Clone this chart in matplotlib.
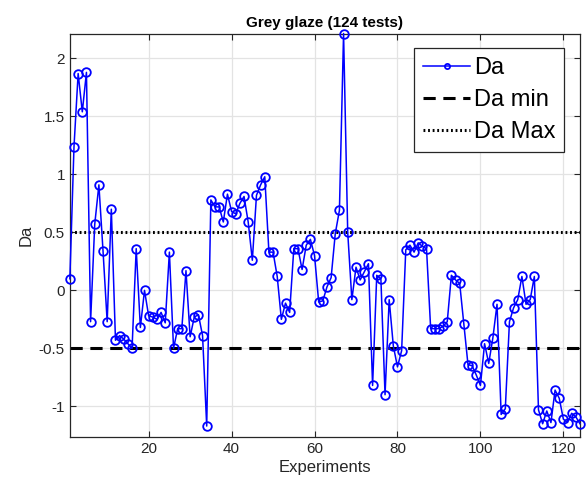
import matplotlib
matplotlib.use('Agg')
import matplotlib.pyplot as plt
import numpy as np

plt.rcParams['font.family'] = ['Liberation Sans', 'DejaVu Sans']
plt.rcParams['axes.unicode_minus'] = False

da = [0.10, 1.24, 1.87, 1.54, 1.88, -0.27, 0.57, 0.91, 0.34, -0.27,
      0.70, -0.43, -0.39, -0.42, -0.46, -0.50, 0.36, -0.32, 0.00, -0.22,
      -0.23, -0.25, -0.19, -0.28, 0.33, -0.50, -0.33, -0.33, 0.17, -0.40,
      -0.23, -0.21, -0.39, -1.17, 0.78, 0.72, 0.72, 0.59, 0.83, 0.68,
      0.66, 0.75, 0.81, 0.59, 0.26, 0.82, 0.91, 0.98, 0.33, 0.33,
      0.12, -0.25, -0.11, -0.19, 0.36, 0.36, 0.18, 0.39, 0.44, 0.30,
      -0.10, -0.09, 0.03, 0.11, 0.49, 0.69, 2.215, 0.50, -0.08, 0.20,
      0.09, 0.16, 0.23, -0.82, 0.13, 0.10, -0.90, -0.08, -0.48, -0.66,
      -0.52, 0.35, 0.39, 0.33, 0.41, 0.38, 0.36, -0.33, -0.33, -0.33,
      -0.31, -0.27, 0.13, 0.09, 0.06, -0.29, -0.64, -0.65, -0.73, -0.82,
      -0.46, -0.63, -0.41, -0.12, -1.07, -1.02, -0.27, -0.15, -0.08, 0.12,
      -0.12, -0.08, 0.12, -1.03, -1.15, -1.04, -1.14, -0.86, -0.93, -1.11,
      -1.14, -1.06, -1.09, -1.15]
experiments = np.arange(1, len(da) + 1)
da_min = -0.5
da_max = 0.5

fig = plt.figure(figsize=(5.87, 4.86), dpi=100)
ax = fig.add_axes([0.119, 0.1014, 0.869, 0.8296])

ax.plot(experiments, da, color='#0000ff', lw=1.1, marker='o', ms=6.2,
        mfc='none', mew=1.3, label='Da', clip_on=False, zorder=3)
ax.axhline(da_min, color='black', lw=2.2, ls=(0, (4, 2.5)), label='Da min')
ax.axhline(da_max, color='black', lw=2.2, ls=(0, (0.6, 0.9)), label='Da Max')

ax.set_xlim(1, 124)
ax.set_ylim(-1.262, 2.215)
ax.set_xticks([20, 40, 60, 80, 100, 120])
ax.set_yticks([-1, -0.5, 0, 0.5, 1, 1.5, 2])
ax.set_yticklabels(['-1', '-0.5', '0', '0.5', '1', '1.5', '2'])

ax.grid(True, color='#e3e3e3', lw=0.9)
ax.set_axisbelow(True)
for s in ax.spines.values():
    s.set_color('#262626')
    s.set_linewidth(0.9)
ax.tick_params(direction='in', top=True, right=True, length=4,
               color='#262626', labelcolor='#262626', labelsize=11)

ax.set_title('Grey glaze (124 tests)', fontsize=11, fontweight='bold', pad=5)
ax.set_xlabel('Experiments', fontsize=12, color='#262626', labelpad=3)
ax.set_ylabel('Da', fontsize=12, color='#262626', labelpad=4)

leg = ax.legend(loc='upper right', bbox_to_anchor=(0.969, 0.963),
                borderaxespad=0, fontsize=17, fancybox=False, framealpha=1,
                edgecolor='#262626', handlelength=2.0, markerscale=0.6,
                handletextpad=0.15, labelspacing=0.42, borderpad=0.38)
leg.get_frame().set_linewidth(0.9)
leg.set_zorder(5)

fig.savefig('out.png', dpi=100)
